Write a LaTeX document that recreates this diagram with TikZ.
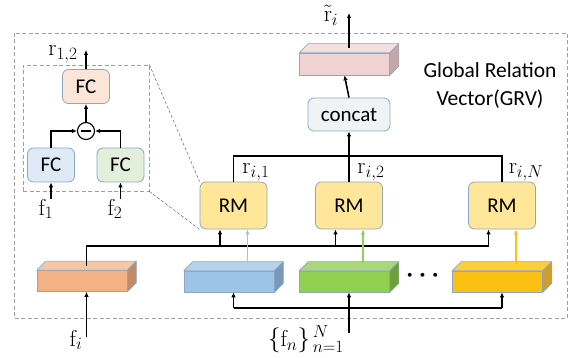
\documentclass[tikz,border=0pt]{standalone}
\usepackage{amsmath}
\usepackage{fontspec}
\setsansfont{Carlito}
\usetikzlibrary{calc}
\usetikzlibrary{arrows.meta,positioning}

\definecolor{edgeblue}{RGB}{140,168,198}
\definecolor{fcorange}{RGB}{251,229,214}
\definecolor{fcblue}{RGB}{222,235,247}
\definecolor{fcgreen}{RGB}{226,239,218}
\definecolor{rmyellow}{RGB}{255,230,153}
\definecolor{catgray}{RGB}{240,243,243}
% slab colours: front / top / side
\definecolor{pkF}{RGB}{240,210,210}\definecolor{pkT}{RGB}{244,222,222}\definecolor{pkS}{RGB}{196,168,168}
\definecolor{orF}{RGB}{244,177,131}\definecolor{orT}{RGB}{248,198,160}\definecolor{orS}{RGB}{196,140,102}
\definecolor{blF}{RGB}{157,195,230}\definecolor{blT}{RGB}{182,210,237}\definecolor{blS}{RGB}{120,153,186}
\definecolor{grF}{RGB}{146,208,80}\definecolor{grT}{RGB}{170,214,122}\definecolor{grS}{RGB}{110,160,58}
\definecolor{yeF}{RGB}{252,192,20}\definecolor{yeT}{RGB}{255,206,52}\definecolor{yeS}{RGB}{206,158,40}

\tikzset{
    block/.style={
        draw=edgeblue,
        line width=0.8pt,
        rounded corners=6pt,
        inner sep=0pt,
        font=\sffamily\fontsize{21}{24}\selectfont
    },
    fcblock/.style={block, minimum width=47pt, minimum height=34pt},
    rmblock/.style={block, fill=rmyellow, minimum width=67pt, minimum height=47pt},
    slab/.style={draw=edgeblue, line width=0.6pt, inner sep=0pt,
        minimum width=90pt, minimum height=21pt},
    wire/.style={line width=1.6pt, black},
    % main black arrow
    blackarrow/.style={
        line width=1.6pt,
        black,
        -{Latex[length=5pt, width=4.5pt]}
    },
    % thin coloured arrow out of a feature slab
    cuearrow/.style={
        line width=1.2pt,
        draw=#1,
        -{Latex[length=5pt, width=4.5pt]}
    },
    frame/.style={draw=gray!75, dash pattern=on 4pt off 2.5pt, line width=0.7pt},
    zoomline/.style={draw=gray!80!black, dash pattern=on 3pt off 2pt, line width=0.5pt},
    lbl/.style={inner sep=0pt, font=\fontsize{23}{26}\selectfont}
}

% top and side faces of a slab drawn on its front node
\newcommand{\slabfaces}[3]{%
    \draw[draw=edgeblue, line width=0.6pt, line join=round, fill=#2]
        (#1.north west) -- ++(9,-9) -- ($(#1.north east)+(9,-9)$) -- (#1.north east) -- cycle;
    \draw[draw=edgeblue, line width=0.6pt, line join=round, fill=#3]
        (#1.north east) -- ++(9,-9) -- ($(#1.south east)+(9,-9)$) -- (#1.south east) -- cycle;
}

\begin{document}
\begin{tikzpicture}[x=1pt, y=-1pt]
    \useasboundingbox (0,0) rectangle (576,358);

    % ===================== outer frame =====================
    \draw[frame] (14,33) rectangle (567,318);

    % ===================== relation module (zoom) =====================
    \node[frame, minimum width=126pt, minimum height=126pt, inner sep=0pt] (zoombox) at (86,128) {};

    \node[fcblock, fill=fcorange] (fc3) at (86,86.5) {FC};
    \node[draw, circle, line width=1.1pt, minimum size=17pt, inner sep=0pt] (minus) at (86,131) {};
    \draw[line width=2pt] ($(minus.center)+(-5,0)$) -- ($(minus.center)+(5,0)$);
    \node[fcblock, fill=fcblue] (fc1) at (51,165) {FC};
    \node[fcblock, fill=fcgreen] (fc2) at (120.5,165) {FC};

    \node[lbl] (r12) at (63,54) {$\mathrm{r}_{1,2}$};
    \node[lbl] (f1) at (46,209) {$\mathrm{f}_1$};
    \node[lbl] (f2) at (115,209) {$\mathrm{f}_2$};
    \coordinate (r12out) at (86,50);

    \draw[blackarrow] (f1.north -| fc1) -- (fc1.south);
    \draw[blackarrow] (f2.north -| fc2) -- (fc2.south);
    \draw[blackarrow] (fc1.north) |- (minus.west);
    \draw[blackarrow] (fc2.north) |- (minus.east);
    \draw[blackarrow] (minus.north) -- (fc3.south);
    \draw[blackarrow] (fc3.north) -- (r12out);

    % ===================== relation modules =====================
    \node[rmblock] (rm1) at (233.5,205.5) {RM};
    \node[rmblock] (rm2) at (349,205.5) {RM};
    \node[rmblock] (rm3) at (502,205.5) {RM};

    \draw[zoomline] (zoombox.north east) -- (rm1.north west);
    \draw[zoomline] (zoombox.south east) -- (rm1.south west);

    \node[lbl] (ri1) at (256,172) {$\mathrm{r}_{i,1}$};
    \node[lbl] (ri2) at (371,172) {$\mathrm{r}_{i,2}$};
    \node[lbl] (riN) at (526,172) {$\mathrm{r}_{i,N}$};

    % ===================== concat and GRV =====================
    \node[block, fill=catgray, minimum width=82pt, minimum height=33pt] (concat) at (349,114.5) {concat};
    \node[slab, fill=pkF, minimum height=22pt] (grvslab) at (344.5,64) {};
    \slabfaces{grvslab}{pkT}{pkS}
    \node[inner sep=0pt, align=center, font=\sffamily\fontsize{21.5}{28}\selectfont] (grv) at (490,86)
        {Global Relation\\Vector(GRV)};
    \node[lbl] (rt) at (331,15) {$\tilde{\mathrm{r}}_i$};
    \coordinate (rtout) at (349,13);

    \coordinate (topbus) at (349,156);
    \draw[wire] (rm1.north) |- (topbus) -| (rm3.north);
    \draw[blackarrow] (rm2.north) -- (concat.south);
    \draw[blackarrow] (concat.north) -- (grvslab.south);
    \draw[blackarrow] ($(grvslab.north)+(4.5,-4.5)$) -- (rtout);

    % ===================== feature slabs =====================
    \node[slab, fill=orF] (fo) at (82,281) {};
    \node[slab, fill=blF] (fb) at (229,281.5) {};
    \node[slab, fill=grF] (fg) at (344.5,281.5) {};
    \node[slab, fill=yeF] (fy) at (497.5,281.5) {};
    \slabfaces{fo}{orT}{orS}
    \slabfaces{fb}{blT}{blS}
    \slabfaces{fg}{grT}{grS}
    \slabfaces{fy}{yeT}{yeS}
    \node[lbl] (dots) at (425,276) {$\boldsymbol{\cdots}$};

    % inputs of each RM: black from f_i, coloured from f_n
    \foreach \r in {rm1,rm2,rm3}{
        \coordinate (\r-in) at ($(\r.south)+(-13.5,0)$);
        \coordinate (\r-cue) at ($(\r.south)+(14,0)$);
    }
    \coordinate (lowbus) at (0,246);
    \draw[wire] ($(fo.north)+(4.5,-4.5)$) |- (rm3-in |- lowbus);
    \foreach \r in {rm1,rm2,rm3}
        \draw[blackarrow] (\r-in |- lowbus) -- (\r-in);

    \coordinate (fb-top) at ($(fb.north)+(4.5,-8)$);
    \draw[cuearrow=blF] (rm1-cue |- fb-top) -- (rm1-cue);
    \draw[cuearrow=grF] (rm2-cue |- fb-top) -- (rm2-cue);
    \draw[cuearrow=yeF] (rm3-cue |- fb-top) -- (rm3-cue);

    % ===================== inputs =====================
    \node[lbl] (fi) at (76,340) {$\mathrm{f}_i$};
    \node[lbl] (fn) at (306,339) {$\{\mathrm{f}_n\}_{\,n=1}^{\,N}$};
    \coordinate (fiin) at (86.5,337);
    \coordinate (fnin) at (349,333);
    \draw[blackarrow] (fiin) -- (fiin |- fo.south);

    \coordinate (inbus) at (0,308);
    \draw[wire] (rm1 |- inbus) -- (rm3 |- inbus);
    \draw[blackarrow] (rm1 |- inbus) -- (rm1 |- fb.south);
    \draw[blackarrow] (fnin) -- (rm2 |- fg.south);
    \draw[blackarrow] (rm3 |- inbus) -- (rm3 |- fy.south);
\end{tikzpicture}
\end{document}
